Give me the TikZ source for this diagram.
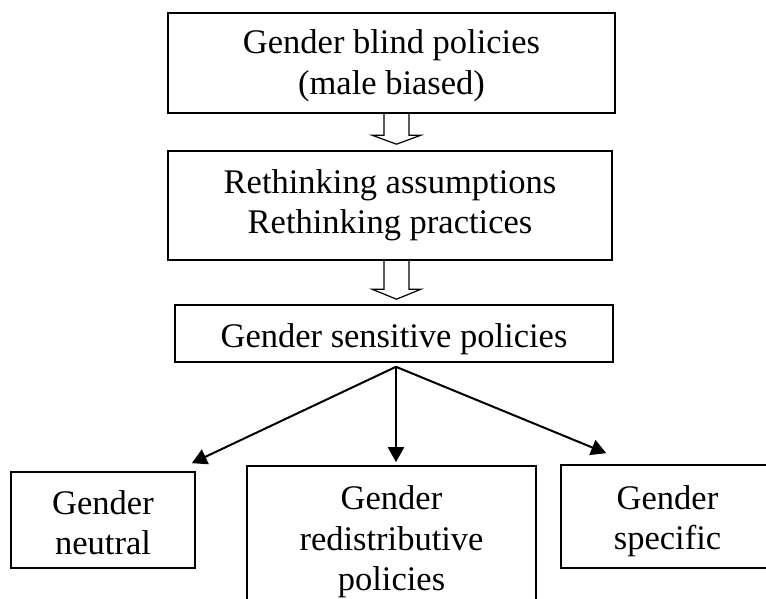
\documentclass[tikz,border=0pt]{standalone}
\usepackage{fontspec}
\setmainfont{Liberation Serif}
\usetikzlibrary{positioning, arrows.meta, calc}

\begin{document}
\begin{tikzpicture}[
    x=1pt, y=-1pt,          % 画像のピクセル座標で配置
    >={Triangle[length=15pt, width=16pt]},
    font=\fontsize{34.5}{40.5}\selectfont,
    box/.style={draw, line width=1.6pt, inner sep=0pt, align=center},
    hollow/.style={draw, line width=1.2pt, line join=miter}
]

    % --- 0. 描画範囲 ---
    \useasboundingbox (0, 0) rectangle (766, 599);

    % --- 1. 上段の箱 ---
    % （\rule は文字を少し下げるための支柱）
    \node [box, minimum width=447pt, minimum height=100pt] (blind) at (391.5, 63)
        {\rule{0pt}{29.6pt}Gender blind policies\\(male biased)};
    \node [box, minimum width=444pt, minimum height=109pt] (rethink) at (390, 205.5)
        {Rethinking assumptions\\Rethinking practices};
    \node [box, minimum width=438pt, minimum height=57pt,
           text height=27pt, text depth=0pt] (sensitive) at (394, 333.5)
        {Gender sensitive policies};

    % --- 2. 白抜きの矢印 ---
    \draw [hollow] ($(blind.south)+(-7.5,0)$) |- ($(rethink.north)+(-18,-15)$)
        -- ($(rethink.north)+(6.5,-6)$)
        -- ($(rethink.north)+(31,-15)$) -| ($(blind.south)+(17.5,0)$);
    \draw [hollow] ($(rethink.south)+(-6,0)$) |- ($(sensitive.north)+(-22,-15)$)
        -- ($(sensitive.north)+(2.5,-5)$)
        -- ($(sensitive.north)+(27,-15)$) -| ($(rethink.south)+(19,0)$);

    % --- 3. 下段の箱 ---
    \node [box, minimum width=184pt, minimum height=96pt] (neutral) at (103, 520)
        {\rule{0pt}{29.6pt}Gender\\neutral};
    \node [box, minimum width=289pt, minimum height=146pt] (redist) at (391.5, 539)
        {\rule{0pt}{29.6pt}Gender\\redistributive\\policies};
    \node [box, minimum width=213pt, minimum height=103pt] (specific) at (667.5, 516.5)
        {\rule{0pt}{33.6pt}Gender\\specific};

    % --- 4. 分岐する矢印 ---
    \coordinate (fork) at ($(sensitive.south)+(2,4)$);
    \draw [->, line width=2pt] (fork) -- ($(neutral.north east)+(-4,-8)$);
    \draw [->, line width=2pt] (fork) -- ($(redist.north)+(4.5,-3)$);
    \draw [->, line width=2pt] (fork) -- ($(specific.north west)+(46,-11)$);

\end{tikzpicture}
\end{document}
